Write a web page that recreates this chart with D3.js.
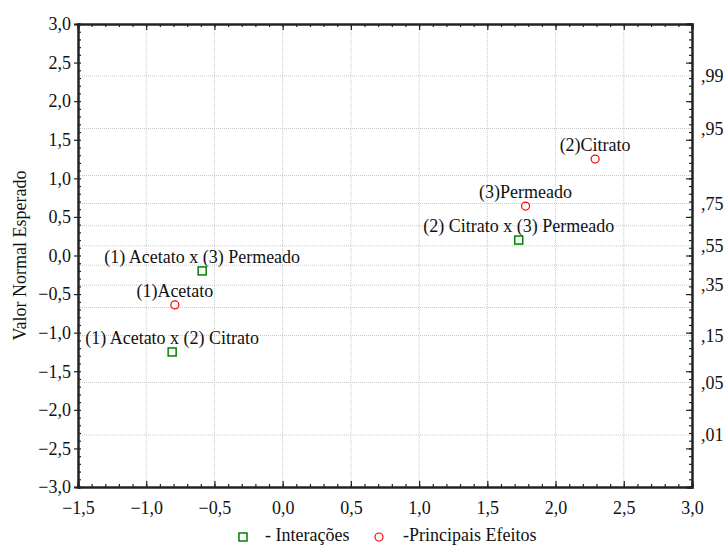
<!DOCTYPE html>
<html>
<head>
<meta charset="utf-8">
<script src="https://cdn.jsdelivr.net/npm/d3@7"></script>
<style>
  body { margin: 0; background: #fff; }
  svg text { font-family: "Liberation Serif", "Times New Roman", serif; fill: #111; }
  .grid line { stroke: #c8c8c8; stroke-dasharray: 1,1; }
</style>
</head>
<body>
<svg width="724" height="545"></svg>
<script>
// effects from the normal probability plot
var effectNames = ["(1)Acetato", "(2)Citrato", "(3)Permeado",
  "(1) Acetato x (2) Citrato", "(1) Acetato x (3) Permeado", "(2) Citrato x (3) Permeado"];
var effectType = ["main", "main", "main", "inter", "inter", "inter"];
var effectX = [-0.79, 2.29, 1.78, -0.81, -0.59, 1.73];   // effect estimate
var effectY = [-0.64, 1.25, 0.64, -1.25, -0.20, 0.20];   // expected normal value

var xTicks = [-1.5, -1.0, -0.5, 0.0, 0.5, 1.0, 1.5, 2.0, 2.5, 3.0];
var yTicks = [-3.0, -2.5, -2.0, -1.5, -1.0, -0.5, 0.0, 0.5, 1.0, 1.5, 2.0, 2.5, 3.0];
var probGrid = [.99, .95, .85, .75, .65, .55, .45, .35, .25, .15, .05, .01];
var probLabels = [.99, .95, .75, .55, .35, .15, .05, .01];

var FONT = '"Liberation Serif", "Times New Roman", serif';
var FS = "18px";

var svg = d3.select("svg");
var margin = {top: 24, right: 32, bottom: 58, left: 78};
var width = +svg.attr("width") - margin.left - margin.right;
var height = +svg.attr("height") - margin.top - margin.bottom;

var x = d3.scaleLinear().domain([-1.5, 3.0]).range([0, width]);
var y = d3.scaleLinear().domain([-3.0, 3.0]).range([height, 0]);

// inverse normal (Abramowitz & Stegun 26.2.23)
function probit(p) {
  var q = p < 0.5 ? p : 1 - p;
  var t = Math.sqrt(-2 * Math.log(q));
  var z = t - (2.515517 + 0.802853 * t + 0.010328 * t * t) /
    (1 + 1.432788 * t + 0.189269 * t * t + 0.001308 * t * t * t);
  return p < 0.5 ? -z : z;
}

var comma = function(v) { return d3.format(".1f")(v).replace(".", ","); };
var probFmt = function(p) { return d3.format(".2f")(p).replace("0.", ","); };

var g = svg.append("g").attr("transform", "translate(" + margin.left + "," + margin.top + ")");

// grid
g.append("g").attr("class", "grid")
  .selectAll("line").data(xTicks.slice(1, -1)).enter().append("line")
  .attr("x1", d => x(d)).attr("x2", d => x(d)).attr("y1", 0).attr("y2", height);
g.append("g").attr("class", "grid")
  .selectAll("line").data(probGrid).enter().append("line")
  .attr("x1", 0).attr("x2", width)
  .attr("y1", d => y(probit(d))).attr("y2", d => y(probit(d)));

var minorX = d3.range(-1.5, 3.0001, 0.1);
var minorY = d3.range(-3.0, 3.0001, 0.1);

function styleAxis(sel) {
  sel.attr("font-family", FONT).attr("font-size", FS);
  sel.select(".domain").attr("stroke", "#222").attr("stroke-width", 2);
  sel.selectAll(".tick line").attr("stroke", "#222").attr("stroke-width", 1.2);
  sel.selectAll("text").style("font-size", FS).attr("fill", "#111");
}

// minor ticks (inside)
g.append("g").call(d3.axisBottom(x).tickValues(minorX).tickSize(-3).tickFormat(""))
  .attr("transform", "translate(0," + height + ")").call(styleAxis);
g.append("g").call(d3.axisTop(x).tickValues(minorX).tickSize(-3).tickFormat(""))
  .call(styleAxis);
g.append("g").call(d3.axisLeft(y).tickValues(minorY).tickSize(-3).tickFormat(""))
  .call(styleAxis);
g.append("g").call(d3.axisRight(y).tickValues(minorY).tickSize(-3).tickFormat(""))
  .attr("transform", "translate(" + width + ",0)").call(styleAxis);

// major ticks + labels
g.append("g").attr("transform", "translate(0," + height + ")")
  .call(d3.axisBottom(x).tickValues(xTicks).tickSize(-6).tickPadding(14).tickFormat(comma))
  .call(styleAxis);
g.append("g")
  .call(d3.axisLeft(y).tickValues(yTicks).tickSize(4).tickPadding(3).tickFormat(comma))
  .call(styleAxis);
g.append("g").attr("transform", "translate(" + width + ",0)")
  .call(d3.axisRight(y).tickValues(yTicks).tickSize(-6).tickFormat(""))
  .call(styleAxis);
g.append("g")
  .call(d3.axisTop(x).tickValues(xTicks).tickSize(-6).tickFormat(""))
  .call(styleAxis);

// right probability labels
g.append("g").selectAll("text").data(probLabels).enter().append("text")
  .attr("x", width + 9).attr("y", d => y(probit(d)))
  .attr("dy", "0.35em").style("font-size", FS)
  .text(probFmt);

// y title
svg.append("text")
  .attr("transform", "translate(26," + (margin.top + height / 2) + ") rotate(-90)")
  .attr("text-anchor", "middle").style("font-size", FS)
  .text("Valor Normal Esperado");

// points
var idx = d3.range(effectNames.length);
g.selectAll(".mk").data(idx).enter().each(function(i) {
  var s = d3.select(this);
  if (effectType[i] === "inter") {
    s.append("rect").attr("x", x(effectX[i]) - 4).attr("y", y(effectY[i]) - 4)
      .attr("width", 8).attr("height", 8)
      .attr("fill", "none").attr("stroke", "#008000").attr("stroke-width", 1.5);
  } else {
    s.append("circle").attr("cx", x(effectX[i])).attr("cy", y(effectY[i])).attr("r", 4)
      .attr("fill", "none").attr("stroke", "#ff0000").attr("stroke-width", 1.2);
  }
});
g.selectAll(".lbl").data(idx).enter().append("text")
  .attr("x", i => x(effectX[i])).attr("y", i => y(effectY[i]) - 8)
  .attr("text-anchor", "middle").style("font-size", FS)
  .text(i => effectNames[i]);

// legend
var leg = svg.append("g");
leg.append("rect").attr("x", 239).attr("y", 533).attr("width", 8).attr("height", 8)
  .attr("fill", "none").attr("stroke", "#008000").attr("stroke-width", 1.5);
leg.append("text").attr("x", 265).attr("y", 541).style("font-size", FS).text("- Interações");
leg.append("circle").attr("cx", 379).attr("cy", 537).attr("r", 4)
  .attr("fill", "none").attr("stroke", "#ff0000").attr("stroke-width", 1.2);
leg.append("text").attr("x", 403).attr("y", 541).style("font-size", FS).text("-Principais Efeitos");
</script>
</body>
</html>
